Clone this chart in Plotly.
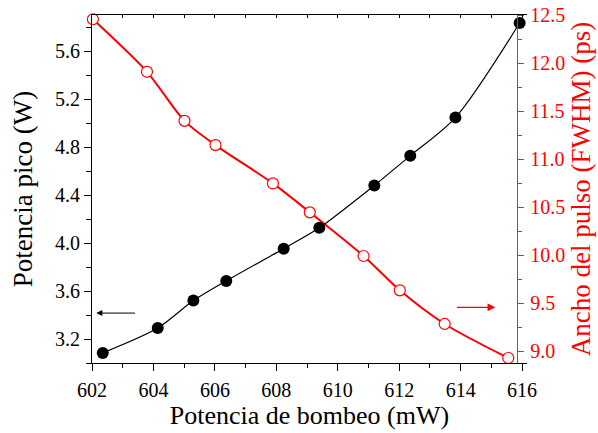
import plotly.graph_objects as go

# Data
pump_black = [602.35, 604.14, 605.30, 606.37, 608.24, 609.40, 611.19, 612.36, 613.83, 615.92]
peak_power = [3.084, 3.291, 3.52, 3.684, 3.953, 4.127, 4.48, 4.727, 5.045, 5.833]

pump_red = [602.03, 603.79, 605.01, 606.02, 607.89, 609.09, 610.84, 612.02, 613.48, 615.55]
pulse_width = [12.456, 11.909, 11.399, 11.147, 10.748, 10.447, 9.993, 9.636, 9.286, 8.932]

x_range = [602, 616.16]
yl_range = [3.0, 5.9]
yr_range = [8.88, 12.5]
right_axis_x = 615.84

# arrow annotations (head, tail)
left_arrow = dict(head=(602.14, 3.416), tail=(603.45, 3.416))
right_arrow = dict(head=(615.13, 9.459), tail=(613.83, 9.459))

FONT = "Liberation Serif, Times New Roman, serif"
RED = "#FF0000"

fig = go.Figure()

fig.add_trace(go.Scatter(
    x=pump_red, y=pulse_width, xaxis="x", yaxis="y",
    mode="lines+markers", line=dict(color=RED, width=2, shape="spline", smoothing=0.8),
    marker=dict(symbol="circle", size=11, color="white", line=dict(color=RED, width=1.2)),
    showlegend=False, cliponaxis=False,
))
fig.add_trace(go.Scatter(
    x=pump_black, y=peak_power, xaxis="x2", yaxis="y2",
    mode="lines+markers", line=dict(color="black", width=1.2, shape="spline", smoothing=0.8),
    marker=dict(symbol="circle", size=12, color="black"),
    showlegend=False, cliponaxis=False,
))

pos = (right_axis_x - x_range[0]) / (x_range[1] - x_range[0])

fig.update_layout(
    width=598, height=433,
    margin=dict(l=92, r=71, t=15, b=70, autoexpand=False),
    paper_bgcolor="white", plot_bgcolor="white",
    font=dict(family=FONT, size=20, color="black"),
    xaxis=dict(
        range=x_range, showgrid=False, zeroline=False,
        showline=True, linecolor="black", linewidth=1,
        ticks="outside", ticklen=7, tickwidth=1, tickcolor="black",
        dtick=2, tick0=0, ticklabelstandoff=2,
        minor=dict(dtick=1, ticks="outside", ticklen=4, tickcolor="black"),
        title=dict(text="Potencia de bombeo (mW)", font=dict(family=FONT, size=26, color="black"), standoff=3),
        tickfont=dict(family=FONT, size=20, color="black"),
    ),
    xaxis2=dict(
        range=x_range, overlaying="x", side="top", anchor="y2",
        showgrid=False, zeroline=False, showline=True, linecolor="black", linewidth=1,
        ticks="inside", ticklen=3, tickcolor="black", dtick=1, tick0=0,
        showticklabels=False,
    ),
    yaxis=dict(
        range=yr_range, anchor="free", position=pos, side="right",
        showgrid=False, zeroline=False,
        showline=True, linecolor="#FF2020", linewidth=1.3,
        ticks="outside", ticklen=6, tickcolor="#FF2020", tickwidth=1,
        dtick=0.5, tick0=0, tickformat=".1f", ticklabelstandoff=2,
        minor=dict(dtick=0.25, ticks="outside", ticklen=4, tickcolor="#FF2020"),
        tickfont=dict(family=FONT, color=RED, size=20),
        title=dict(text="Ancho del pulso (FWHM) (ps)", font=dict(family=FONT, color=RED, size=27), standoff=6),
    ),
    yaxis2=dict(
        range=yl_range, overlaying="y", side="left", anchor="x2",
        showgrid=False, zeroline=False,
        showline=True, linecolor="black", linewidth=1,
        ticks="outside", ticklen=7, tickcolor="black",
        dtick=0.4, tick0=0, tickformat=".1f",
        minor=dict(dtick=0.2, ticks="outside", ticklen=5, tickcolor="black"),
        tickfont=dict(family=FONT, size=20, color="black"),
        title=dict(text="Potencia pico (W)", font=dict(family=FONT, size=27, color="black"), standoff=14),
    ),
)

fig.add_annotation(
    x=left_arrow["head"][0], y=left_arrow["head"][1], xref="x2", yref="y2",
    ax=left_arrow["tail"][0], ay=left_arrow["tail"][1], axref="x2", ayref="y2",
    showarrow=True, arrowhead=2, arrowsize=1.2, arrowwidth=1, arrowcolor="black", text="",
)
fig.add_annotation(
    x=right_arrow["head"][0], y=right_arrow["head"][1], xref="x", yref="y",
    ax=right_arrow["tail"][0], ay=right_arrow["tail"][1], axref="x", ayref="y",
    showarrow=True, arrowhead=2, arrowsize=1.2, arrowwidth=1.3, arrowcolor=RED, text="",
)

fig.write_html("out.html")
